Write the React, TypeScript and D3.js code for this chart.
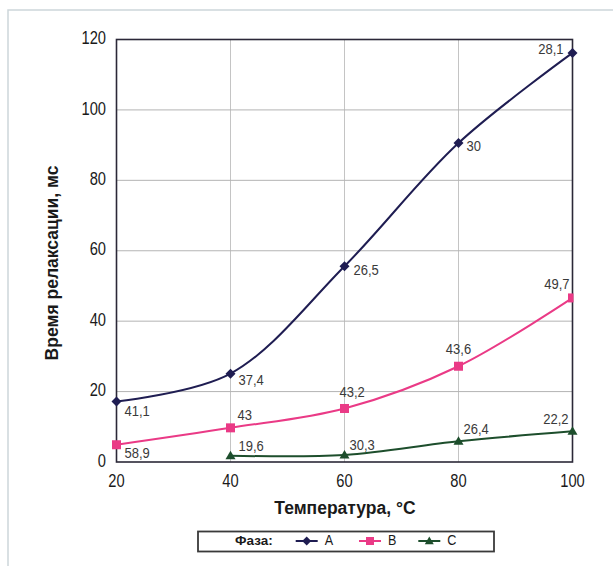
import React from 'react';
import * as d3 from 'd3';

// temperatures, °C
const temps = [20, 40, 60, 80, 100];
const yTicks = [0, 20, 40, 60, 80, 100, 120];

// relaxation time, ms
const phaseA = [17.2, 25.1, 55.6, 90.6, 116.2];
const phaseB = [4.9, 9.7, 15.2, 27.2, 46.6];
const phaseC = [null, 1.8, 2.0, 5.9, 8.7];

// printed labels next to the points
const labelsA = ['41,1', '37,4', '26,5', '30', '28,1'];
const labelsB = ['58,9', '43', '43,2', '43,6', '49,7'];
const labelsC = ['', '19,6', '30,3', '26,4', '22,2'];

const legendNames = ['A', 'B', 'C'];

// label placement: [dx, dy, anchor]
type Place = [number, number, 'start' | 'middle' | 'end'];
const placeA: Place[] = [[8, 10, 'start'], [8, 7, 'start'], [9, 5, 'start'], [8, 4, 'start'], [-9, -3, 'end']];
const placeB: Place[] = [[8, 9, 'start'], [7, -12, 'start'], [-5, -16, 'start'], [0, -16, 'middle'], [-3, -13, 'end']];
const placeC: Place[] = [[0, 0, 'start'], [8, -9, 'start'], [5, -9, 'start'], [5, -11, 'start'], [-4, -11, 'end']];

const W = 613;
const H = 566;
const plot = { left: 116.5, right: 572.5, top: 39.5, bottom: 462 };

const sans = '"Liberation Sans", Arial, sans-serif';

const colorA = '#1f1d52';
const colorB = '#ea3a86';
const colorC = '#1d4e2c';

// the printed chart uses a condensed face; squeeze Liberation Sans horizontally
function Narrow(props: { x: number; y: number; size: number; anchor?: 'start' | 'middle' | 'end'; fill?: string; children: React.ReactNode }) {
    const { x, y, size, anchor = 'start', fill = '#1a1a1a', children } = props;
    return (
        <text transform={`translate(${x},${y}) scale(0.84,1)`} textAnchor={anchor} dominantBaseline="middle"
            fontFamily={sans} fontSize={size} fill={fill}>{children}</text>
    );
}

function marker(kind: string, x: number, y: number, color: string, s = 5) {
    if (kind === 'diamond') {
        return <path d={`M${x},${y - s}L${x + s},${y}L${x},${y + s}L${x - s},${y}Z`} fill={color} />;
    }
    if (kind === 'square') {
        return <rect x={x - s + 0.5} y={y - s + 0.5} width={2 * s - 1} height={2 * s - 1} fill={color} />;
    }
    return <path d={`M${x},${y - s}L${x + s},${y + s * 0.7}L${x - s},${y + s * 0.7}Z`} fill={color} />;
}

export default function App() {
    const x = d3.scaleLinear().domain([20, 100]).range([plot.left, plot.right]);
    const y = d3.scaleLinear().domain([0, 120]).range([plot.bottom, plot.top]);

    const series = [
        { values: phaseA, labels: labelsA, place: placeA, color: colorA, kind: 'diamond', clip: false },
        { values: phaseB, labels: labelsB, place: placeB, color: colorB, kind: 'square', clip: true },
        { values: phaseC, labels: labelsC, place: placeC, color: colorC, kind: 'triangle', clip: false },
    ];

    const line = d3.line<[number, number]>()
        .curve(d3.curveCatmullRom.alpha(0.5))
        .x((d) => x(d[0]))
        .y((d) => y(d[1]));

    const points = (vals: (number | null)[]) =>
        temps.map((t, i) => [t, vals[i]] as [number, number | null])
            .filter((p) => p[1] !== null) as [number, number][];

    const legendX = [306.7, 370, 429.3];
    const legendY = 541;

    return (
        <svg width={W} height={H} style={{ position: 'absolute', left: 0, top: 0, background: '#fff' }}>
            <defs>
                <clipPath id="plotclip">
                    <rect x={0} y={0} width={plot.right + 1} height={H} />
                </clipPath>
            </defs>
            <rect x={8} y={10} width={700} height={700} fill="#fff" stroke="#cdd6da" strokeWidth={1.5} />

            {/* grid */}
            {temps.slice(1, -1).map((t) => (
                <line key={`gx${t}`} x1={x(t)} x2={x(t)} y1={plot.top} y2={plot.bottom} stroke="#c4c4c4" strokeWidth={1} />
            ))}
            {yTicks.slice(1, -1).map((v) => (
                <line key={`gy${v}`} x1={plot.left} x2={plot.right} y1={y(v)} y2={y(v)} stroke="#b4b4b4" strokeWidth={1} />
            ))}

            {/* plot frame */}
            <rect x={plot.left} y={plot.top} width={plot.right - plot.left} height={plot.bottom - plot.top}
                fill="none" stroke="#2b2838" strokeWidth={1.6} />

            {/* tick labels */}
            {yTicks.map((v) => (
                <Narrow key={`ty${v}`} x={106} y={y(v)} size={17.5} anchor="end">{v}</Narrow>
            ))}
            {temps.map((t) => (
                <Narrow key={`tx${t}`} x={x(t)} y={482} size={17.5} anchor="middle">{t}</Narrow>
            ))}

            {/* axis titles */}
            <text x={345} y={509} textAnchor="middle" dominantBaseline="middle"
                fontFamily={sans} fontWeight="bold" fontSize={17.5} fill="#1a1a1a">Температура, °C</text>
            <text transform={`translate(53, 263) rotate(-90)`} textAnchor="middle" dominantBaseline="middle"
                fontFamily={sans} fontWeight="bold" fontSize={17.5} fill="#1a1a1a">Время релаксации, мс</text>

            {/* lines */}
            {series.map((s, i) => (
                <path key={`l${i}`} d={line(points(s.values)) ?? ''} fill="none" stroke={s.color} strokeWidth={2} />
            ))}

            {/* markers */}
            {series.map((s, i) => (
                <g key={`mg${i}`} clipPath={s.clip ? 'url(#plotclip)' : undefined}>
                    {points(s.values).map((p, j) => (
                        <g key={`m${i}-${j}`}>{marker(s.kind, x(p[0]), y(p[1]), s.color)}</g>
                    ))}
                </g>
            ))}

            {/* point labels */}
            {series.map((s, i) => temps.map((t, j) => {
                const v = s.values[j];
                if (v === null) return null;
                const [dx, dy, anchor] = s.place[j];
                return (
                    <Narrow key={`t${i}-${j}`} x={x(t) + dx} y={y(v) + dy} size={15.5} anchor={anchor} fill="#3a3a3a">
                        {s.labels[j]}
                    </Narrow>
                );
            }))}

            {/* legend */}
            <rect x={198} y={531.5} width={296} height={20} fill="#fff" stroke="#3a3a3a" strokeWidth={1.8} />
            <text x={235} y={legendY} dominantBaseline="middle" fontFamily={sans} fontWeight="bold"
                fontSize={13.5} fill="#1a1a1a">Фаза:</text>
            {series.map((s, i) => (
                <g key={`lg${i}`}>
                    <line x1={legendX[i] - 11} x2={legendX[i] + 11} y1={legendY} y2={legendY} stroke={s.color} strokeWidth={2} />
                    {marker(s.kind, legendX[i], legendY, s.color, 4.5)}
                    <Narrow x={legendX[i] + 18} y={legendY} size={15}>{legendNames[i]}</Narrow>
                </g>
            ))}
        </svg>
    );
}
